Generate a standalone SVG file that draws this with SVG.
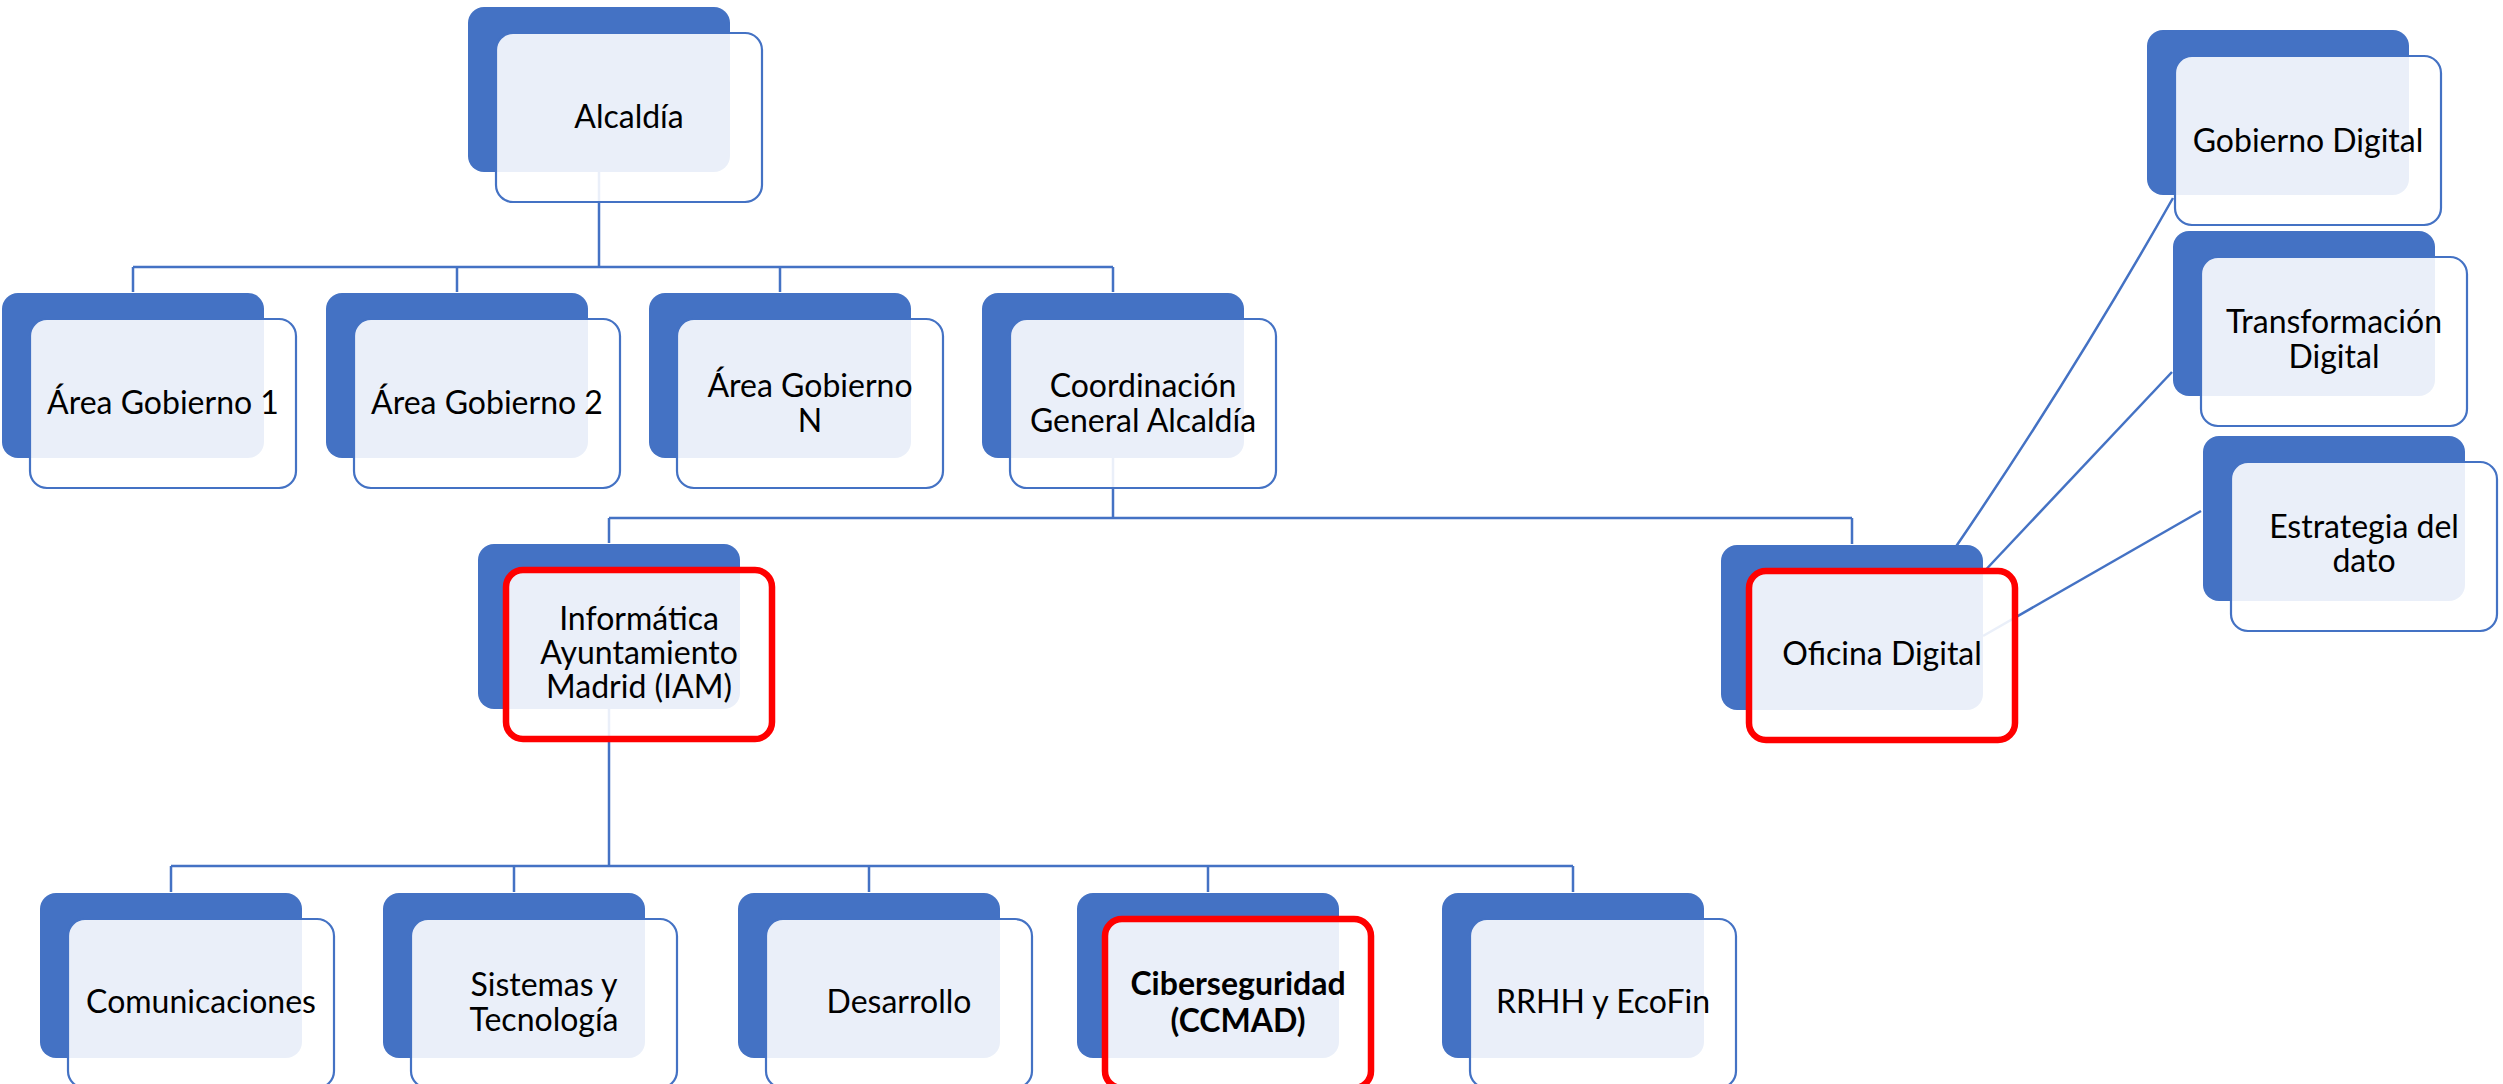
<svg xmlns="http://www.w3.org/2000/svg" width="2503" height="1084" viewBox="0 0 2503 1084">
<style>
.bg{fill:#4472C4}
.fr{fill:#ffffff;fill-opacity:0.89;stroke:#4472C4;stroke-width:2.2}
.hl{fill:#ffffff;fill-opacity:0.89;stroke:#FF0000;stroke-width:6.5}
.t{font-family:Lato,"Open Sans","Liberation Sans",sans-serif;font-size:32px;fill:#000;text-anchor:middle}
.b{font-weight:bold}
.c{fill:none;stroke:#4472C4;stroke-width:2.5}
</style>
<rect width="2503" height="1084" fill="#ffffff"/>
<g id="connectors" class="c">
<path d="M599 172V267"/>
<path d="M133 267H1113"/>
<path d="M133 267V292M457 267V292M780 267V292M1113 267V292"/>
<path d="M1113 458V518"/>
<path d="M609 518H1852"/>
<path d="M609 518V543M1852 518V544"/>
<path d="M609 709V866"/>
<path d="M171 866H1573"/>
<path d="M171 866V892M514 866V892M869 866V892M1208 866V892M1573 866V892"/>
<path d="M1955 548Q2071 378 2173 198"/>
<path d="M1978 578L2172 372"/>
<path d="M1983 636L2201 511"/>
</g>
<g id="n-alcaldia"><rect class="bg" x="468" y="7" width="262" height="165" rx="16"/><rect class="fr" x="496" y="33" width="266" height="169" rx="17"/><text class="t" x="629" y="128">Alcaldía</text></g>
<g id="n-ag1"><rect class="bg" x="2" y="293" width="262" height="165" rx="16"/><rect class="fr" x="30" y="319" width="266" height="169" rx="17"/><text class="t" x="163" y="414">Área Gobierno 1</text></g>
<g id="n-ag2"><rect class="bg" x="326" y="293" width="262" height="165" rx="16"/><rect class="fr" x="354" y="319" width="266" height="169" rx="17"/><text class="t" x="487" y="414">Área Gobierno 2</text></g>
<g id="n-agn"><rect class="bg" x="649" y="293" width="262" height="165" rx="16"/><rect class="fr" x="677" y="319" width="266" height="169" rx="17"/><text class="t" x="810" y="397">Área Gobierno</text><text class="t" x="810" y="432">N</text></g>
<g id="n-coord"><rect class="bg" x="982" y="293" width="262" height="165" rx="16"/><rect class="fr" x="1010" y="319" width="266" height="169" rx="17"/><text class="t" x="1143" y="397">Coordinación</text><text class="t" x="1143" y="432">General Alcaldía</text></g>
<g id="n-iam"><rect class="bg" x="478" y="544" width="262" height="165" rx="16"/><rect class="hl" x="506" y="570" width="266" height="169" rx="17"/><text class="t" x="639" y="630">Informática</text><text class="t" x="639" y="664">Ayuntamiento</text><text class="t" x="639" y="698">Madrid (IAM)</text></g>
<g id="n-oficina"><rect class="bg" x="1721" y="545" width="262" height="165" rx="16"/><rect class="hl" x="1749" y="571" width="266" height="169" rx="17"/><text class="t" x="1882" y="665">Oficina Digital</text></g>
<g id="n-gobdig"><rect class="bg" x="2147" y="30" width="262" height="165" rx="16"/><rect class="fr" x="2175" y="56" width="266" height="169" rx="17"/><text class="t" x="2308" y="152">Gobierno Digital</text></g>
<g id="n-transf"><rect class="bg" x="2173" y="231" width="262" height="165" rx="16"/><rect class="fr" x="2201" y="257" width="266" height="169" rx="17"/><text class="t" x="2334" y="333">Transformación</text><text class="t" x="2334" y="368">Digital</text></g>
<g id="n-estrat"><rect class="bg" x="2203" y="436" width="262" height="165" rx="16"/><rect class="fr" x="2231" y="462" width="266" height="169" rx="17"/><text class="t" x="2364" y="538">Estrategia del</text><text class="t" x="2364" y="572">dato</text></g>
<g id="n-com"><rect class="bg" x="40" y="893" width="262" height="165" rx="16"/><rect class="fr" x="68" y="919" width="266" height="169" rx="17"/><text class="t" x="201" y="1013">Comunicaciones</text></g>
<g id="n-sis"><rect class="bg" x="383" y="893" width="262" height="165" rx="16"/><rect class="fr" x="411" y="919" width="266" height="169" rx="17"/><text class="t" x="544" y="996">Sistemas y</text><text class="t" x="544" y="1031">Tecnología</text></g>
<g id="n-des"><rect class="bg" x="738" y="893" width="262" height="165" rx="16"/><rect class="fr" x="766" y="919" width="266" height="169" rx="17"/><text class="t" x="899" y="1013">Desarrollo</text></g>
<g id="n-ciber"><rect class="bg" x="1077" y="893" width="262" height="165" rx="16"/><rect class="hl" x="1105" y="919" width="266" height="169" rx="17"/><text class="t b" x="1238" y="995">Ciberseguridad</text><text class="t b" x="1238" y="1032">(CCMAD)</text></g>
<g id="n-rrhh"><rect class="bg" x="1442" y="893" width="262" height="165" rx="16"/><rect class="fr" x="1470" y="919" width="266" height="169" rx="17"/><text class="t" x="1603" y="1013">RRHH y EcoFin</text></g>
</svg>
